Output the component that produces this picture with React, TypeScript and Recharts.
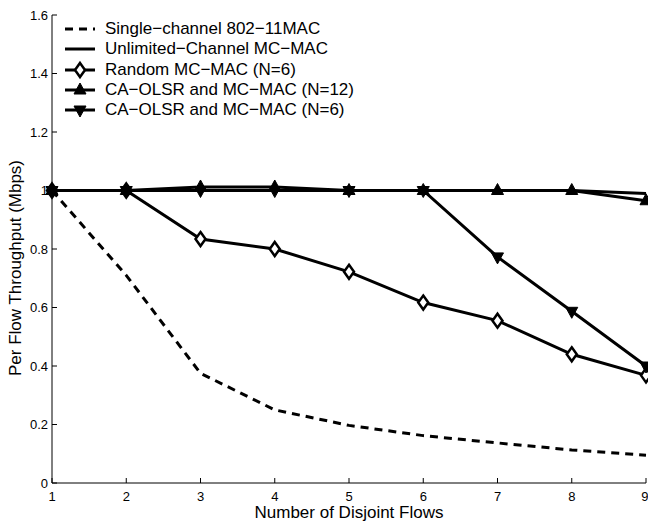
import React from "react";
import { LineChart, Line, XAxis, YAxis, Label } from "recharts";

const flows = [1, 2, 3, 4, 5, 6, 7, 8, 9];
const singleChannel = [1.0, 0.71, 0.375, 0.25, 0.197, 0.162, 0.137, 0.113, 0.095];
const unlimited = [1.0, 1.0, 1.0, 1.0, 1.0, 1.0, 1.0, 1.0, 0.99];
const randomN6 = [1.0, 1.0, 0.834, 0.8, 0.722, 0.617, 0.555, 0.44, 0.368];
const caN12 = [1.0, 1.0, 1.012, 1.012, 1.0, 1.0, 1.0, 1.0, 0.965];
const caN6 = [1.0, 1.0, 1.0, 1.0, 1.0, 1.0, 0.773, 0.587, 0.4];
const xTicks = [1, 2, 3, 4, 5, 6, 7, 8, 9];
const yTicks = [0, 0.2, 0.4, 0.6, 0.8, 1.0, 1.2, 1.4, 1.6];

const data = flows.map((f, i) => ({
  f,
  single: singleChannel[i],
  unlimited: unlimited[i],
  random: randomN6[i],
  n12: caN12[i],
  n6: caN6[i],
}));

const FONT = "'Liberation Sans', Arial, Helvetica, sans-serif";

const Diamond = (p: any) => {
  const { cx, cy } = p;
  if (cx == null || cy == null) return null;
  return (
    <polygon
      key={`d-${cx}`}
      points={`${cx},${cy - 7} ${cx + 5},${cy} ${cx},${cy + 7} ${cx - 5},${cy}`}
      fill="#fff"
      stroke="#000"
      strokeWidth={2.5}
    />
  );
};
const TriUp = (p: any) => {
  const { cx, cy } = p;
  if (cx == null || cy == null) return null;
  return (
    <polygon
      key={`u-${cx}`}
      points={`${cx},${cy - 7} ${cx + 6},${cy + 4} ${cx - 6},${cy + 4}`}
      fill="#000"
      stroke="#000"
      strokeWidth={1}
    />
  );
};
const TriDown = (p: any) => {
  const { cx, cy } = p;
  if (cx == null || cy == null) return null;
  return (
    <polygon
      key={`v-${cx}`}
      points={`${cx},${cy + 7} ${cx + 6},${cy - 4} ${cx - 6},${cy - 4}`}
      fill="#000"
      stroke="#000"
      strokeWidth={1}
    />
  );
};

const legendItems = [
  { label: "Single\u2212channel 802\u221211MAC", dash: true, marker: null },
  { label: "Unlimited\u2212Channel MC\u2212MAC", dash: false, marker: null },
  { label: "Random MC\u2212MAC (N=6)", dash: false, marker: "diamond" },
  { label: "CA\u2212OLSR and MC\u2212MAC (N=12)", dash: false, marker: "up" },
  { label: "CA\u2212OLSR and MC\u2212MAC (N=6)", dash: false, marker: "down" },
];

const LegendBox = () => (
  <div
    style={{
      position: "absolute",
      left: 63,
      top: 19,
      fontFamily: FONT,
      fontSize: 17,
      color: "#000",
      lineHeight: "20px",
    }}
  >
    {legendItems.map((it) => (
      <div key={it.label} style={{ display: "flex", alignItems: "center", height: 20.3 }}>
        <svg width={34} height={20} style={{ marginRight: 8, flex: "none" }}>
          <line
            x1={2}
            x2={32}
            y1={10}
            y2={10}
            stroke="#000"
            strokeWidth={3}
            strokeDasharray={it.dash ? "8 6" : undefined}
          />
          {it.marker === "diamond" && <Diamond cx={17} cy={10} />}
          {it.marker === "up" && <TriUp cx={17} cy={10} />}
          {it.marker === "down" && <TriDown cx={17} cy={10} />}
        </svg>
        <span style={{ whiteSpace: "nowrap" }}>{it.label}</span>
      </div>
    ))}
  </div>
);

const fmtY = (v: number) => String(Math.round(v * 10) / 10);

export default function App() {
  return (
    <div style={{ position: "absolute", left: 0, top: 0, width: 648, height: 524, background: "#fff" }}>
      <LineChart
        width={648}
        height={524}
        data={data}
        margin={{ top: 15, right: 2, bottom: 0, left: 0 }}
      >
        <XAxis
          xAxisId="bottom"
          dataKey="f"
          type="number"
          domain={[1, 9]}
          ticks={xTicks}
          height={41}
          stroke="#000"
          tickSize={-5}
          tickMargin={14}
          tick={{ fill: "#000", fontSize: 13, fontFamily: FONT }}
          axisLine={{ stroke: "#000", strokeWidth: 1 }}
        >
          <Label
            value="Number of Disjoint Flows"
            position="insideBottom"
            offset={6}
            style={{ fill: "#000", fontSize: 17, fontFamily: FONT }}
          />
        </XAxis>
        <XAxis
          xAxisId="top"
          dataKey="f"
          type="number"
          domain={[1, 9]}
          ticks={xTicks}
          orientation="top"
          height={0}
          mirror
          tick={false}
          tickSize={5}
          stroke="#000"
          axisLine={{ stroke: "#000", strokeWidth: 1 }}
        />
        <YAxis
          yAxisId="left"
          type="number"
          domain={[0, 1.6]}
          ticks={yTicks}
          width={52}
          stroke="#000"
          tickSize={-5}
          tickMargin={9}
          tickFormatter={fmtY}
          tick={{ fill: "#000", fontSize: 13, fontFamily: FONT }}
          axisLine={{ stroke: "#000", strokeWidth: 1 }}
        >
          <Label
            value="Per Flow Throughput (Mbps)"
            angle={-90}
            position="insideLeft"
            offset={0}
            dy={19}
            dx={15}
            style={{ fill: "#000", fontSize: 17, fontFamily: FONT, textAnchor: "middle" }}
          />
        </YAxis>
        <YAxis
          yAxisId="right"
          type="number"
          domain={[0, 1.6]}
          ticks={yTicks}
          orientation="right"
          width={0}
          mirror
          tick={false}
          tickSize={5}
          stroke="#000"
          axisLine={{ stroke: "#000", strokeWidth: 1 }}
        />
        <Line
          xAxisId="bottom"
          yAxisId="left"
          dataKey="single"
          stroke="#000"
          strokeWidth={3}
          strokeDasharray="8 6"
          dot={false}
          isAnimationActive={false}
        />
        <Line
          xAxisId="bottom"
          yAxisId="left"
          dataKey="unlimited"
          stroke="#000"
          strokeWidth={3}
          dot={false}
          isAnimationActive={false}
        />
        <Line
          xAxisId="bottom"
          yAxisId="left"
          dataKey="random"
          stroke="#000"
          strokeWidth={3}
          dot={Diamond}
          isAnimationActive={false}
        />
        <Line
          xAxisId="bottom"
          yAxisId="left"
          dataKey="n12"
          stroke="#000"
          strokeWidth={3}
          dot={TriUp}
          isAnimationActive={false}
        />
        <Line
          xAxisId="bottom"
          yAxisId="left"
          dataKey="n6"
          stroke="#000"
          strokeWidth={3}
          dot={TriDown}
          isAnimationActive={false}
        />
      </LineChart>
      <LegendBox />
    </div>
  );
}
